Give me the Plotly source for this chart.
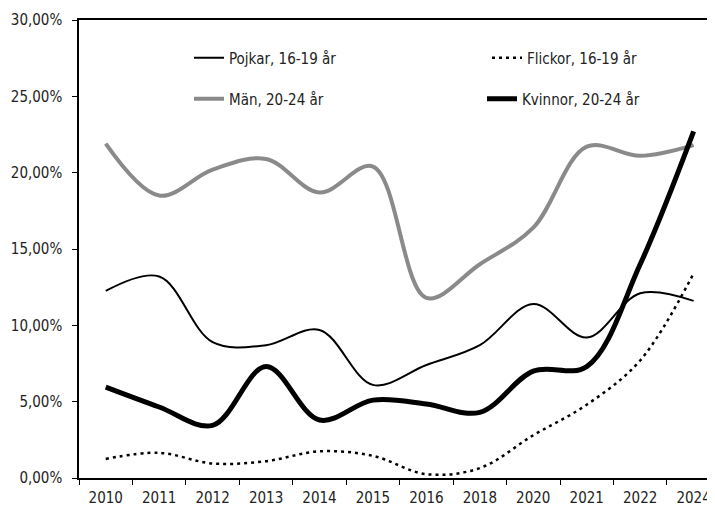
import plotly.graph_objects as go

years = ["2010", "2011", "2012", "2013", "2014", "2015", "2016", "2018", "2020", "2021", "2022", "2024"]
pojkar = [12.25, 13.2, 8.9, 8.7, 9.7, 6.1, 7.4, 8.7, 11.4, 9.2, 12.1, 11.6]
flickor = [1.25, 1.65, 0.95, 1.1, 1.75, 1.45, 0.25, 0.65, 2.8, 4.8, 7.7, 13.4]
man = [21.9, 18.5, 20.2, 20.9, 18.7, 20.4, 11.8, 14.0, 16.4, 21.7, 21.1, 21.8]
kvinnor = [5.95, 4.65, 3.45, 7.3, 3.8, 5.1, 4.85, 4.3, 7.0, 7.3, 14.0, 22.7]

y_ticks = [0, 5, 10, 15, 20, 25, 30]
y_labels = ["0,00%", "5,00%", "10,00%", "15,00%", "20,00%", "25,00%", "30,00%"]

FONT = "DejaVu Sans Condensed, Liberation Sans Narrow, Arial Narrow, sans-serif"
TXT = "#222"
FS = 15

# the page body has an 8px default margin, so the figure is drawn 8px smaller
# and the plot area is placed to land at page pixels x 79..715, y 20..478
BODY = 8
W, H = 715 - BODY, 508 - BODY
L, T, B = 79 - BODY, 20 - BODY, 30

fig = go.Figure()
fig.add_trace(go.Scatter(x=years, y=pojkar, name="Pojkar, 16-19 år", mode="lines",
                         line=dict(color="black", width=2, shape="spline", smoothing=1.0),
                         legend="legend"))
fig.add_trace(go.Scatter(x=years, y=flickor, name="Flickor, 16-19 år", mode="lines",
                         line=dict(color="black", width=2.5, dash="3px,4px", shape="spline", smoothing=1.0),
                         legend="legend2"))
fig.add_trace(go.Scatter(x=years, y=man, name="Män, 20-24 år", mode="lines",
                         line=dict(color="#8a8a8a", width=4, shape="spline", smoothing=1.0),
                         legend="legend3"))
fig.add_trace(go.Scatter(x=years, y=kvinnor, name="Kvinnor, 20-24 år", mode="lines",
                         line=dict(color="black", width=5, shape="spline", smoothing=1.0),
                         legend="legend4"))

leg_common = dict(orientation="v", xref="paper", yref="paper", xanchor="left",
                  yanchor="middle", bgcolor="rgba(0,0,0,0)",
                  font=dict(family=FONT, size=FS, color=TXT))

def px_x(px):
    return (px - 79) / 636

def px_y(py):
    return (478 - py) / 458

n = len(years)
fig.update_layout(
    width=W, height=H,
    margin=dict(l=L, r=0, t=T, b=B, autoexpand=False),
    paper_bgcolor="white", plot_bgcolor="white",
    font=dict(family=FONT, size=FS, color=TXT),
    showlegend=True,
    legend=dict(x=px_x(189), y=px_y(58), **leg_common),
    legend2=dict(x=px_x(487), y=px_y(58), **leg_common),
    legend3=dict(x=px_x(189), y=px_y(99), **leg_common),
    legend4=dict(x=px_x(482), y=px_y(99), **leg_common),
    xaxis=dict(type="category", range=[-0.5, n - 0.6], showline=True, linecolor="black", linewidth=1.5,
               mirror=True, ticks="outside", tickson="boundaries", ticklen=5, tickcolor="black",
               tickwidth=1, showgrid=False, automargin=False, ticklabelstandoff=5,
               tickfont=dict(family=FONT, size=FS, color=TXT)),
    xaxis2=dict(overlaying="x", anchor="y", side="bottom", range=[-0.5, n - 0.6],
                tickmode="array", tickvals=[i + 0.5 for i in range(n - 1)], ticks="inside",
                ticklen=6, tickcolor="black", tickwidth=1, showticklabels=False,
                showgrid=False, zeroline=False, showline=False, automargin=False),
    yaxis=dict(range=[0, 30], tickvals=y_ticks, ticktext=y_labels, showline=True,
               linecolor="black", linewidth=1.5, ticks="outside", ticklen=5, tickcolor="black",
               showgrid=False, zeroline=False, automargin=False, ticklabelstandoff=7,
               tickfont=dict(family=FONT, size=FS, color=TXT)),
)

fig.write_html("out.html")
